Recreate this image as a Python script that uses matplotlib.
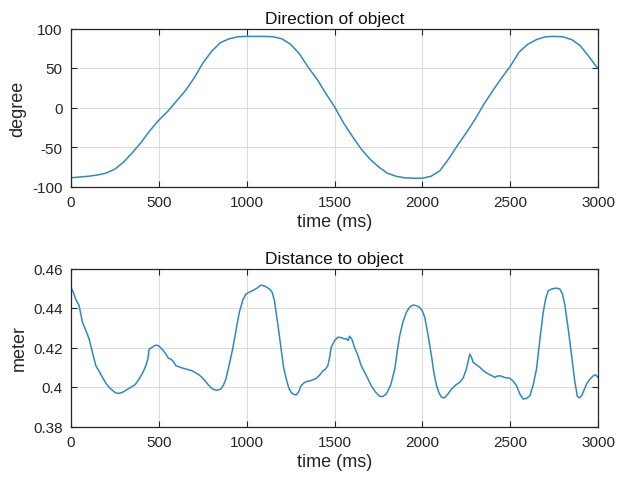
import numpy as np
import matplotlib.pyplot as plt

# direction of object (degree), sampled every 50 ms
dir_time = [0, 50, 100, 150, 200, 250, 300, 350, 400, 450, 500, 550, 600, 650, 700,
            750, 800, 850, 900, 950, 1000, 1050, 1100, 1150, 1200, 1250, 1300, 1350,
            1400, 1450, 1500, 1550, 1600, 1650, 1700, 1750, 1800, 1850, 1900, 1950,
            2000, 2050, 2100, 2150, 2200, 2250, 2300, 2350, 2400, 2450, 2500, 2550,
            2600, 2650, 2700, 2750, 2800, 2850, 2900, 2950, 3000]
dir_deg = [-89, -88, -87, -85.5, -83, -78, -69, -57, -44, -29, -16, -5, 8, 21, 37,
           56, 71, 82, 87, 89.5, 90, 90, 90, 89.5, 87, 80, 68, 51,
           36, 18, 1, -19, -36, -52, -65, -75, -83, -87, -89, -89.5,
           -89.5, -87, -80, -65, -48, -32, -15, 4, 21, 37, 52, 70,
           80, 86, 89.5, 90, 89.5, 86, 78, 64, 49]

# distance to object (meter)
dist_time = [0, 15, 26, 46, 65, 85, 103, 122, 141, 160, 179, 198, 217, 236, 255, 274,
             293, 315, 340, 365, 388, 410, 426, 437, 445, 460, 474, 488, 502, 520,
             540, 555, 568, 583, 597, 620, 654, 690, 730, 755, 778, 798, 816, 835,
             854, 868, 882, 900, 920, 940, 958, 978, 996, 1015, 1034, 1058, 1082,
             1105, 1130, 1145, 1158, 1177, 1196, 1210, 1225, 1240, 1253, 1268, 1282,
             1296, 1310, 1325, 1339, 1368, 1396, 1415, 1434, 1448, 1462, 1472, 1481,
             1500, 1519, 1540, 1555, 1567, 1577, 1586, 1600, 1614, 1633, 1652, 1680,
             1709, 1733, 1757, 1776, 1795, 1820, 1843, 1857, 1871, 1890, 1909, 1928,
             1947, 1966, 1985, 2000, 2014, 2033, 2052, 2066, 2081, 2095, 2109, 2124,
             2138, 2152, 2166, 2190, 2213, 2232, 2251, 2261, 2270, 2280, 2289, 2308,
             2327, 2351, 2375, 2394, 2413, 2427, 2441, 2470, 2498, 2517, 2536, 2555,
             2574, 2593, 2612, 2631, 2650, 2669, 2688, 2703, 2717, 2736, 2755, 2769,
             2783, 2798, 2812, 2831, 2850, 2866, 2882, 2895, 2907, 2921, 2935, 2954,
             2973, 2986, 3000]
dist_m = [0.4505, 0.4475, 0.4446, 0.4412, 0.4328, 0.4285, 0.4243, 0.4175, 0.4108, 0.4080,
          0.4049, 0.4020, 0.3998, 0.3983, 0.3970, 0.3968, 0.3973, 0.3985, 0.3998, 0.4012,
          0.4041, 0.4075, 0.4108, 0.4140, 0.4192, 0.4200, 0.4209, 0.4212, 0.4206, 0.4190,
          0.4167, 0.4145, 0.4142, 0.4128, 0.4108, 0.4100, 0.4091, 0.4082, 0.4061, 0.4040,
          0.4015, 0.3995, 0.3986, 0.3984, 0.3990, 0.4010, 0.4041, 0.4110, 0.4192, 0.4290,
          0.4378, 0.4440, 0.4471, 0.4480, 0.4488, 0.4500, 0.4516, 0.4510, 0.4496, 0.4480,
          0.4437, 0.4320, 0.4192, 0.4100, 0.4041, 0.3995, 0.3973, 0.3962, 0.3960, 0.3975,
          0.4007, 0.4020, 0.4027, 0.4033, 0.4044, 0.4060, 0.4082, 0.4090, 0.4108, 0.4150,
          0.4200, 0.4235, 0.4252, 0.4250, 0.4243, 0.4245, 0.4235, 0.4257, 0.4240, 0.4200,
          0.4160, 0.4108, 0.4060, 0.4007, 0.3975, 0.3953, 0.3952, 0.3965, 0.4010, 0.4091,
          0.4180, 0.4260, 0.4330, 0.4378, 0.4405, 0.4415, 0.4412, 0.4403, 0.4385, 0.4353,
          0.4260, 0.4158, 0.4070, 0.4007, 0.3970, 0.3948, 0.3945, 0.3956, 0.3972, 0.3990,
          0.4010, 0.4024, 0.4045, 0.4091, 0.4130, 0.4167, 0.4150, 0.4125, 0.4112, 0.4100,
          0.4080, 0.4066, 0.4058, 0.4049, 0.4055, 0.4057, 0.4048, 0.4044, 0.4030, 0.4007,
          0.3965, 0.3939, 0.3942, 0.3956, 0.4010, 0.4091, 0.4240, 0.4378, 0.4450, 0.4488,
          0.4496, 0.4500, 0.4500, 0.4496, 0.4470, 0.4412, 0.4290, 0.4158, 0.4040, 0.3953,
          0.3945, 0.3956, 0.3985, 0.4015, 0.4040, 0.4057, 0.4062, 0.4049]

TXT = '#262626'
LINE = '#3188c0'

plt.rcParams['font.family'] = ['Liberation Sans', 'DejaVu Sans']
plt.rcParams['axes.unicode_minus'] = False

fig = plt.figure(figsize=(6.18, 4.81), dpi=100)
ax1 = fig.add_axes([71 / 618, 1 - 187.5 / 481, 527 / 618, 158 / 481])
ax2 = fig.add_axes([71 / 618, 1 - 427.5 / 481, 527 / 618, 158 / 481])


def style(ax):
    ax.grid(True, color='#dcdcdc', linewidth=0.8)
    ax.set_axisbelow(True)
    for s in ax.spines.values():
        s.set_color(TXT)
        s.set_linewidth(0.9)
    ax.tick_params(direction='in', top=True, right=True, length=4, width=0.8,
                   colors=TXT, labelsize=11, pad=6)
    ax.set_xlim(0, 3000)
    ax.set_xticks([0, 500, 1000, 1500, 2000, 2500, 3000])
    ax.set_xlabel('time (ms)', color=TXT, fontsize=13, labelpad=3)


ax1.plot(dir_time, dir_deg, color=LINE, linewidth=1.1)
style(ax1)
ax1.set_ylim(-100, 100)
ax1.set_yticks([-100, -50, 0, 50, 100])
ax1.set_ylabel('degree', color=TXT, fontsize=13, labelpad=4)
ax1.set_title('Direction of object', color='#111111', fontsize=12.5, pad=4)

ax2.plot(dist_time, dist_m, color=LINE, linewidth=1.1)
style(ax2)
ax2.set_ylim(0.38, 0.46)
ax2.set_yticks([0.38, 0.40, 0.42, 0.44, 0.46])
ax2.set_yticklabels(['0.38', '0.4', '0.42', '0.44', '0.46'])
ax2.set_ylabel('meter', color=TXT, fontsize=13, labelpad=4)
ax2.set_title('Distance to object', color='#111111', fontsize=12.5, pad=4)

fig.savefig('out.png', dpi=100)
